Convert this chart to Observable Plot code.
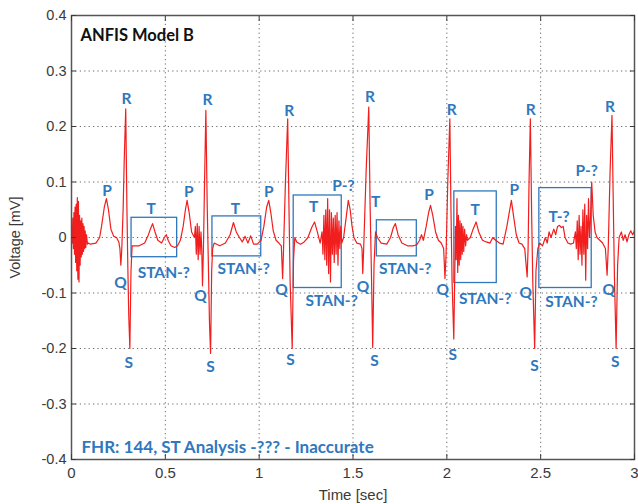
<!DOCTYPE html>
<html><head><meta charset="utf-8">
<script src="https://cdn.jsdelivr.net/npm/d3@7"></script>
<script src="https://cdn.jsdelivr.net/npm/@observablehq/plot@0.6"></script>
<style>body{margin:0;background:#fff} svg{display:block}</style>
</head><body><div id="chart"></div>
<script>
const xTicks = [0, 0.5, 1, 1.5, 2, 2.5, 3];
const xTickLabels = ["0", "0.5", "1", "1.5", "2", "2.5", "3"];
const yTicks = [0.4, 0.3, 0.2, 0.1, 0, -0.1, -0.2, -0.3, -0.4];
const yTickLabels = ["0.4", "0.3", "0.2", "0.1", "0", "-0.1", "-0.2", "-0.3", "-0.4"];

const times = [
0.000,0.004,0.007,0.010,0.013,0.016,0.019,0.022,0.025,0.028,0.031,0.034,0.037,0.040,0.043,0.046,0.049,0.052,0.055,0.058,0.061,0.064,0.067,0.070,0.073,0.076,0.080,0.085,0.090,
0.100,0.130,0.150,0.160,0.175,0.186,0.197,0.210,0.225,0.240,0.252,0.258,0.263,0.268,0.275,0.281,0.289,0.295,0.300,0.305,0.311,0.317,0.323,
0.360,0.390,0.410,0.420,0.432,0.445,0.460,0.480,0.495,0.505,0.515,0.530,0.550,0.565,0.580,0.595,0.607,0.616,0.627,0.640,0.655,
0.660,0.665,0.670,0.675,0.680,0.685,0.690,0.694,0.698,0.703,0.710,0.716,0.723,0.730,0.735,0.741,0.747,0.752,
0.760,0.790,0.820,0.845,0.863,0.878,0.895,0.910,0.925,0.940,0.955,0.970,0.990,1.010,1.025,1.040,1.051,1.062,1.075,1.090,1.105,1.118,
1.125,1.130,1.140,1.152,1.159,1.165,1.176,1.183,1.190,1.200,1.220,1.240,1.260,1.280,1.295,1.310,1.325,
1.335,1.340,1.345,1.350,1.355,1.360,1.365,1.370,1.375,1.380,1.385,1.390,1.395,1.400,1.405,1.410,1.415,1.420,1.425,1.430,1.435,1.440,
1.450,1.465,1.475,1.485,1.495,1.505,1.520,1.540,1.548,1.552,1.557,1.570,1.584,1.591,1.598,1.605,1.612,1.620,1.630,1.650,1.680,1.700,1.715,1.726,1.740,1.760,1.790,1.820,1.840,1.855,1.865,1.875,
1.890,1.903,1.913,1.925,1.940,1.955,1.970,1.983,1.990,1.996,2.005,2.016,2.022,2.028,2.037,2.043,
2.046,2.050,2.054,2.058,2.062,2.066,2.070,2.074,2.078,2.082,2.086,2.090,2.095,2.100,2.105,2.110,
2.125,2.140,2.156,2.170,2.190,2.210,2.230,2.245,2.260,2.280,2.300,2.320,2.335,2.344,2.355,2.370,2.385,2.400,2.415,2.428,2.433,2.438,2.445,2.452,2.458,2.468,2.475,2.485,2.495,
2.510,2.525,2.535,2.545,2.555,2.570,2.580,2.590,2.600,2.610,2.620,2.630,2.645,2.660,2.675,
2.685,2.690,2.695,2.700,2.705,2.710,2.715,2.720,2.725,2.730,2.735,2.740,2.745,2.750,2.755,2.760,2.765,
2.772,2.780,2.790,2.800,2.815,2.830,2.845,2.854,2.860,2.870,2.880,2.887,2.893,2.902,2.910,2.918,2.930,2.940,2.950,2.960,2.970,2.980,2.990,3.000
];
const volts = [
0.020,-0.010,0.035,-0.020,0.045,-0.030,0.055,-0.045,0.060,-0.060,0.072,-0.075,0.065,-0.080,0.040,-0.050,0.030,-0.035,0.035,-0.030,0.025,-0.025,0.020,-0.020,0.012,-0.018,0.005,-0.012,-0.010,
-0.012,-0.010,0.000,0.020,0.055,0.070,0.050,0.015,0.002,0.000,-0.008,-0.020,-0.050,-0.020,0.050,0.140,0.232,0.060,-0.050,-0.140,-0.200,-0.060,-0.015,
-0.015,-0.010,0.005,0.015,0.025,0.010,-0.005,-0.010,0.000,0.005,-0.005,-0.015,-0.018,-0.015,-0.005,0.020,0.050,0.067,0.045,0.010,0.000,
0.020,-0.030,0.025,-0.040,0.020,-0.030,0.010,-0.020,-0.087,-0.020,0.120,0.229,0.060,-0.060,-0.150,-0.209,-0.060,-0.020,
-0.010,-0.015,-0.010,0.005,0.027,0.010,0.000,-0.008,0.002,-0.010,0.003,-0.012,-0.012,-0.005,0.020,0.055,0.067,0.045,0.012,-0.005,-0.010,-0.015,
-0.074,-0.020,0.100,0.214,0.050,-0.080,-0.200,-0.040,0.000,-0.008,-0.012,-0.008,0.000,0.018,0.028,0.010,-0.010,
0.010,-0.030,0.040,-0.040,0.050,-0.050,0.070,-0.065,0.050,-0.080,0.045,-0.030,0.035,-0.045,0.040,-0.030,0.045,-0.050,0.030,-0.020,0.020,-0.010,
0.000,0.040,0.067,0.050,0.020,0.000,-0.010,-0.012,-0.020,-0.065,-0.020,0.120,0.235,0.060,-0.060,-0.198,-0.050,0.010,0.000,-0.010,-0.012,0.000,0.018,0.025,0.005,-0.010,-0.015,-0.015,-0.013,-0.005,0.005,-0.005,
0.020,0.045,0.058,0.040,0.010,-0.005,-0.010,-0.020,-0.074,-0.030,0.100,0.214,0.050,-0.080,-0.183,-0.050,
0.020,-0.040,0.070,-0.063,0.040,-0.050,0.030,-0.040,0.025,-0.030,0.020,-0.025,0.015,-0.015,0.005,-0.005,
0.000,0.015,0.028,0.010,-0.005,-0.008,-0.010,0.000,-0.005,-0.010,-0.012,0.020,0.050,0.067,0.040,0.005,-0.010,-0.012,-0.020,-0.071,-0.020,0.100,0.214,0.040,-0.080,-0.200,-0.060,-0.020,-0.010,
-0.015,0.000,-0.010,0.010,0.000,0.015,0.005,0.020,0.022,0.018,0.020,0.000,-0.010,-0.012,-0.010,
0.010,-0.020,0.030,-0.040,0.040,-0.030,0.020,-0.050,0.050,-0.030,0.060,-0.077,0.040,-0.020,0.070,0.000,0.030,
0.100,0.040,0.010,0.000,-0.005,-0.010,-0.020,-0.068,-0.020,0.120,0.220,0.060,-0.070,-0.200,-0.050,0.000,0.010,-0.005,0.005,-0.008,0.005,0.012,0.005,0.012
];

const boxStart = [0.320, 0.751, 1.184, 1.627, 2.040, 2.493];
const boxEnd   = [0.563, 1.011, 1.440, 1.840, 2.266, 2.772];
const boxTop   = [0.0355, 0.038, 0.0757, 0.031, 0.083, 0.089];
const boxBottom= [-0.0355, -0.034, -0.091, -0.034, -0.082, -0.091];

const labelText = [
 "R","R","R","R","R","R","R",
 "P","P","P","P-?","P","P","P-?",
 "T","T","T","T","T","T-?",
 "Q","Q","Q","Q","Q","Q","Q",
 "S","S","S","S","S","S","S",
 "STAN-?","STAN-?","STAN-?","STAN-?","STAN-?","STAN-?"
];
const labelT = [
 0.293,0.725,1.160,1.591,2.026,2.447,2.870,
 0.190,0.625,1.051,1.449,1.905,2.360,2.745,
 0.424,0.874,1.291,1.621,2.151,2.598,
 0.261,0.687,1.119,1.553,1.978,2.420,2.863,
 0.305,0.741,1.167,1.614,2.031,2.467,2.897,
 0.492,0.918,1.386,1.778,2.204,2.664
];
const labelV = [
 0.249,0.247,0.228,0.253,0.229,0.229,0.235,
 0.083,0.082,0.082,0.092,0.076,0.085,0.120,
 0.052,0.052,0.055,0.064,0.050,0.037,
 -0.082,-0.106,-0.095,-0.090,-0.095,-0.100,-0.094,
 -0.226,-0.234,-0.220,-0.223,-0.211,-0.232,-0.225,
 -0.064,-0.056,-0.115,-0.056,-0.110,-0.117
];

const titleText = "ANFIS Model B";
const noteText = "FHR: 144, ST Analysis -??? - Inaccurate";

const signal = times.map((t, i) => ({t, v: volts[i]}));
const boxes = boxStart.map((s, i) => ({x1: s, x2: boxEnd[i], y1: boxBottom[i], y2: boxTop[i]}));
const labels = labelText.map((s, i) => ({text: s, t: labelT[i], v: labelV[i]}));

const blue = "#2f78be";
const annFont = "Lato, 'Open Sans', sans-serif";
const chart = Plot.plot({
  width: 638, height: 504,
  marginTop: 15, marginRight: 4, marginBottom: 45, marginLeft: 71,
  style: {fontFamily: "'Liberation Sans', Arial, sans-serif", fontSize: "13px", color: "#3a3a3a", background: "#fff"},
  x: {domain: [0, 3]},
  y: {domain: [-0.4, 0.4]},
  marks: [
    Plot.gridX(xTicks, {stroke: "#555", strokeOpacity: 0.9, strokeDasharray: "1.2,3.2"}),
    Plot.gridY(yTicks, {stroke: "#555", strokeOpacity: 0.9, strokeDasharray: "1.2,3.2"}),
    Plot.rect(boxes, {x1: "x1", x2: "x2", y1: "y1", y2: "y2", fill: "none", stroke: blue, strokeWidth: 1.3}),
    Plot.line(signal, {x: "t", y: "v", stroke: "#f21d1d", strokeWidth: 1.2}),
    Plot.text(labels, {x: "t", y: "v", text: "text", fill: blue, fontWeight: "bold", fontSize: 15.5, fontFamily: annFont}),
    Plot.text([titleText], {x: 0.048, y: 0.364, text: d => d, textAnchor: "start", fill: "#111", fontWeight: "bold", fontSize: 16.5, fontFamily: annFont}),
    Plot.text([noteText], {x: 0.053, y: -0.378, text: d => d, textAnchor: "start", fill: blue, fontWeight: "bold", fontSize: 17, fontFamily: annFont}),
    Plot.frame({stroke: "#555", strokeWidth: 1.5}),
    Plot.axisX(xTicks, {anchor: "bottom", tickSize: -5, tickPadding: 13, tickFormat: d => xTickLabels[xTicks.indexOf(d)], label: "Time [sec]", labelAnchor: "center", labelArrow: "none", labelOffset: 40, fontSize: 15}),
    Plot.axisX(xTicks, {anchor: "top", tickSize: -5, tickFormat: () => "", label: null}),
    Plot.axisY(yTicks, {anchor: "left", tickSize: -5, tickPadding: 10, tickFormat: d => yTickLabels[yTicks.indexOf(d)], label: "Voltage [mV]", labelAnchor: "center", labelArrow: "none", labelOffset: 62, fontSize: 14.5}),
    Plot.axisY(yTicks, {anchor: "right", tickSize: -5, tickFormat: () => "", label: null})
  ]
});
document.getElementById("chart").append(chart);
</script>
</body></html>
